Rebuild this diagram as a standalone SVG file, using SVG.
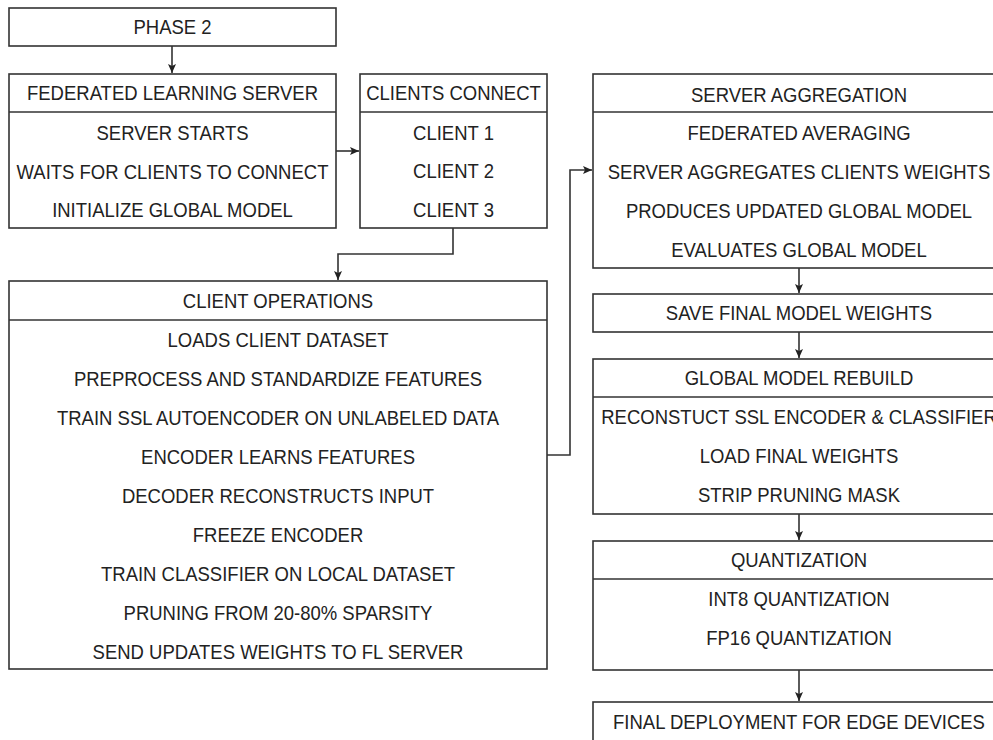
<svg xmlns="http://www.w3.org/2000/svg" width="993" height="740" viewBox="0 0 993 740">
  <style>
    .box { fill: #ffffff; stroke: #333333; stroke-width: 1.6; }
    .div { stroke: #333333; stroke-width: 1.6; }
    .t { font-family: "Liberation Sans", Arial, sans-serif; font-size: 20px; fill: #222222; text-anchor: middle; }
    .edge { fill: none; stroke: #333333; stroke-width: 1.6; marker-end: url(#arrow); }
  </style>
  <defs>
    <marker id="arrow" markerUnits="userSpaceOnUse" markerWidth="10" markerHeight="10" refX="9" refY="5" orient="auto">
      <path d="M0,1 L9,5 L0,9 L2,5 z" fill="#222222"/>
    </marker>
  </defs>
  <rect width="993" height="740" fill="#ffffff"/>

  <!-- connectors -->
  <g id="connectors">
    <path class="edge" d="M172,46 V73"/>
    <path class="edge" d="M336,151 H359"/>
    <path class="edge" d="M453,228 V254 H338 V280"/>
    <path class="edge" d="M547,455 H570 V170 H592"/>
    <path class="edge" d="M799,268 V293"/>
    <path class="edge" d="M799,332 V358"/>
    <path class="edge" d="M799,514 V540"/>
    <path class="edge" d="M799,670 V701"/>
  </g>

  <g id="phase2">
    <rect class="box" x="9" y="8" width="327" height="38"/>
    <text class="t" transform="translate(172.5 34) scale(0.925 1)">PHASE 2</text>
  </g>

  <g id="fl-server">
    <rect class="box" x="9" y="74" width="327" height="154"/>
    <line class="div" x1="9" y1="112" x2="336" y2="112"/>
    <text class="t" transform="translate(172.5 100) scale(0.925 1)">FEDERATED LEARNING SERVER</text>
    <text class="t" transform="translate(172.5 140) scale(0.925 1)">SERVER STARTS</text>
    <text class="t" transform="translate(172.5 179) scale(0.925 1)">WAITS FOR CLIENTS TO CONNECT</text>
    <text class="t" transform="translate(172.5 217) scale(0.925 1)">INITIALIZE GLOBAL MODEL</text>
  </g>

  <g id="clients-connect">
    <rect class="box" x="360" y="74" width="187" height="154"/>
    <line class="div" x1="360" y1="112" x2="547" y2="112"/>
    <text class="t" transform="translate(453.5 100) scale(0.925 1)">CLIENTS CONNECT</text>
    <text class="t" transform="translate(453.5 140) scale(0.925 1)">CLIENT 1</text>
    <text class="t" transform="translate(453.5 178) scale(0.925 1)">CLIENT 2</text>
    <text class="t" transform="translate(453.5 217) scale(0.925 1)">CLIENT 3</text>
  </g>

  <g id="client-operations">
    <rect class="box" x="9" y="281" width="538" height="388"/>
    <line class="div" x1="9" y1="320" x2="547" y2="320"/>
    <text class="t" transform="translate(278 308) scale(0.925 1)">CLIENT OPERATIONS</text>
    <text class="t" transform="translate(278 347) scale(0.925 1)">LOADS CLIENT DATASET</text>
    <text class="t" transform="translate(278 386) scale(0.925 1)">PREPROCESS AND STANDARDIZE FEATURES</text>
    <text class="t" transform="translate(278 425) scale(0.925 1)">TRAIN SSL AUTOENCODER ON UNLABELED DATA</text>
    <text class="t" transform="translate(278 464) scale(0.925 1)">ENCODER LEARNS FEATURES</text>
    <text class="t" transform="translate(278 503) scale(0.925 1)">DECODER RECONSTRUCTS INPUT</text>
    <text class="t" transform="translate(278 542) scale(0.925 1)">FREEZE ENCODER</text>
    <text class="t" transform="translate(278 581) scale(0.925 1)">TRAIN CLASSIFIER ON LOCAL DATASET</text>
    <text class="t" transform="translate(278 620) scale(0.925 1)">PRUNING FROM 20-80% SPARSITY</text>
    <text class="t" transform="translate(278 659) scale(0.925 1)">SEND UPDATES WEIGHTS TO FL SERVER</text>
  </g>

  <g id="server-aggregation">
    <rect class="box" x="593" y="74" width="412" height="194"/>
    <line class="div" x1="593" y1="112" x2="1005" y2="112"/>
    <text class="t" transform="translate(799 102) scale(0.925 1)">SERVER AGGREGATION</text>
    <text class="t" transform="translate(799 140) scale(0.925 1)">FEDERATED AVERAGING</text>
    <text class="t" transform="translate(799 179) scale(0.925 1)">SERVER AGGREGATES CLIENTS WEIGHTS</text>
    <text class="t" transform="translate(799 218) scale(0.925 1)">PRODUCES UPDATED GLOBAL MODEL</text>
    <text class="t" transform="translate(799 257) scale(0.925 1)">EVALUATES GLOBAL MODEL</text>
  </g>

  <g id="save-weights">
    <rect class="box" x="593" y="294" width="412" height="38"/>
    <text class="t" transform="translate(799 320) scale(0.925 1)">SAVE FINAL MODEL WEIGHTS</text>
  </g>

  <g id="global-rebuild">
    <rect class="box" x="593" y="359" width="412" height="155"/>
    <line class="div" x1="593" y1="397" x2="1005" y2="397"/>
    <text class="t" transform="translate(799 385) scale(0.925 1)">GLOBAL MODEL REBUILD</text>
    <text class="t" transform="translate(799 424) scale(0.925 1)">RECONSTUCT SSL ENCODER &amp; CLASSIFIER</text>
    <text class="t" transform="translate(799 463) scale(0.925 1)">LOAD FINAL WEIGHTS</text>
    <text class="t" transform="translate(799 502) scale(0.925 1)">STRIP PRUNING MASK</text>
  </g>

  <g id="quantization">
    <rect class="box" x="593" y="541" width="412" height="129"/>
    <line class="div" x1="593" y1="579" x2="1005" y2="579"/>
    <text class="t" transform="translate(799 567) scale(0.925 1)">QUANTIZATION</text>
    <text class="t" transform="translate(799 606) scale(0.925 1)">INT8 QUANTIZATION</text>
    <text class="t" transform="translate(799 645) scale(0.925 1)">FP16 QUANTIZATION</text>
  </g>

  <g id="deployment">
    <rect class="box" x="593" y="702" width="412" height="50"/>
    <text class="t" transform="translate(799 729) scale(0.925 1)">FINAL DEPLOYMENT FOR EDGE DEVICES</text>
  </g>
</svg>
